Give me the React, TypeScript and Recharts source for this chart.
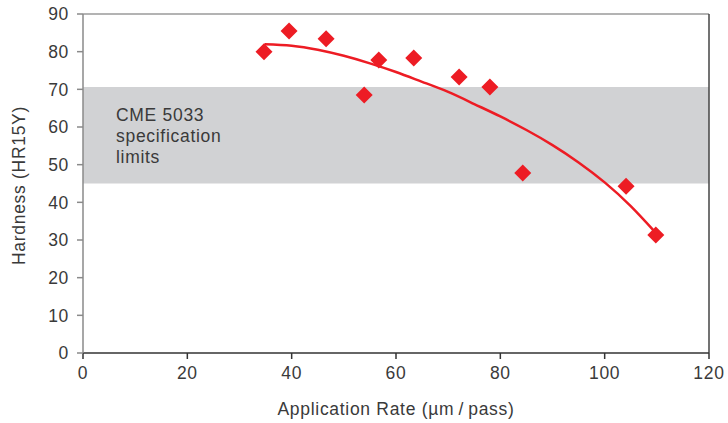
import React from 'react';
import { ComposedChart, XAxis, YAxis, Scatter, Line, ReferenceArea, ReferenceLine } from 'recharts';

const pointX = [34.7, 39.5, 46.6, 53.9, 56.7, 63.4, 72.1, 78.0, 84.3, 104.1, 109.8];
const pointY = [80.0, 85.5, 83.4, 68.5, 77.8, 78.3, 73.3, 70.6, 47.8, 44.3, 31.3];
const trendX = [34.8, 40, 45, 50, 55, 60, 65, 70, 75, 80, 85, 90, 95, 100, 105, 109.8];
const trendY = [82.0, 81.6, 80.5, 78.9, 76.9, 74.6, 72.0, 69.3, 66.1, 62.8, 59.2, 55.2, 50.6, 45.3, 39.0, 31.9];
const xTicks = [0, 20, 40, 60, 80, 100, 120];
const yTicks = [0, 10, 20, 30, 40, 50, 60, 70, 80, 90];
const specLimits = [45, 70.6];
const specLines = ['CME 5033', 'specification', 'limits'];
const xLabel = 'Application Rate (\u00b5m\u2009/\u2009pass)';
const yLabel = 'Hardness (HR15Y)';

const points = pointX.map((x, i) => ({ x, y: pointY[i] }));
const trend = trendX.map((x, i) => ({ x, y: trendY[i] }));

const RED = '#ed1c24';
const FONT = '"Liberation Sans", Arial, sans-serif';
const TEXT = '#3a3a3a';
const FS = 17.5;
const LS = 0.7;

const Diamond = (props: any) => {
  const { cx, cy } = props;
  const r = 8.5;
  return <path d={`M${cx},${cy - r} L${cx + r},${cy} L${cx},${cy + r} L${cx - r},${cy} Z`} fill={RED} />;
};

const SpecLabel = (props: any) => {
  const vb = props.viewBox || {};
  const x = vb.x + 33;
  const y = vb.y + 34;
  return (
    <text x={x} y={y} fill={TEXT} fontSize={FS} fontFamily={FONT} letterSpacing={LS}>
      {specLines.map((s, i) => (
        <tspan key={i} x={x} y={y + i * 21}>{s}</tspan>
      ))}
    </text>
  );
};

const YLabel = (props: any) => {
  const vb = props.viewBox || {};
  const x = vb.x + 25;
  const y = vb.y + vb.height / 2 + 2;
  return (
    <text x={x} y={y} transform={`rotate(-90, ${x}, ${y})`} textAnchor="middle" fill={TEXT} fontSize={FS} fontFamily={FONT} letterSpacing={LS}>
      {yLabel}
    </text>
  );
};

const XLabel = (props: any) => {
  const vb = props.viewBox || {};
  const x = vb.x + vb.width / 2;
  const y = vb.y + 62;
  return (
    <text x={x} y={y} textAnchor="middle" fill={TEXT} fontSize={FS} fontFamily={FONT} letterSpacing={LS}>
      {xLabel}
    </text>
  );
};

export default function App() {
  return (
    <div style={{ position: 'absolute', left: 0, top: 0, background: '#fff' }}>
      <ComposedChart width={728} height={423} margin={{ top: 14, right: 19, left: 0, bottom: 0 }}>
        <XAxis
          type="number"
          dataKey="x"
          domain={[0, 120]}
          ticks={xTicks}
          height={70}
          axisLine={{ stroke: '#333', strokeWidth: 1.5 }}
          tickLine={{ stroke: '#333', strokeWidth: 1.5 }}
          tickSize={6}
          tickMargin={8}
          tick={{ fill: TEXT, fontSize: FS, fontFamily: FONT, letterSpacing: LS }}
          label={<XLabel />}
          allowDataOverflow
        />
        <YAxis
          type="number"
          dataKey="y"
          domain={[0, 90]}
          ticks={yTicks}
          width={83}
          axisLine={{ stroke: '#8a8a8a', strokeWidth: 1.5 }}
          tickLine={{ stroke: '#8a8a8a', strokeWidth: 1.5 }}
          tickSize={6}
          tickMargin={8}
          tick={{ fill: TEXT, fontSize: FS, fontFamily: FONT, letterSpacing: LS }}
          label={<YLabel />}
          allowDataOverflow
        />
        <ReferenceArea x1={0} x2={120} y1={specLimits[0]} y2={specLimits[1]} fill="#d1d2d4" fillOpacity={1} stroke="none" label={<SpecLabel />} />
        <ReferenceLine y={90} stroke="#9a9a9a" strokeWidth={1.5} />
        <ReferenceLine x={120} stroke="#444" strokeWidth={1.5} />
        <Line data={trend} dataKey="y" type="natural" stroke={RED} strokeWidth={2.5} dot={false} isAnimationActive={false} />
        <Scatter data={points} dataKey="y" fill={RED} shape={<Diamond />} isAnimationActive={false} />
      </ComposedChart>
    </div>
  );
}
